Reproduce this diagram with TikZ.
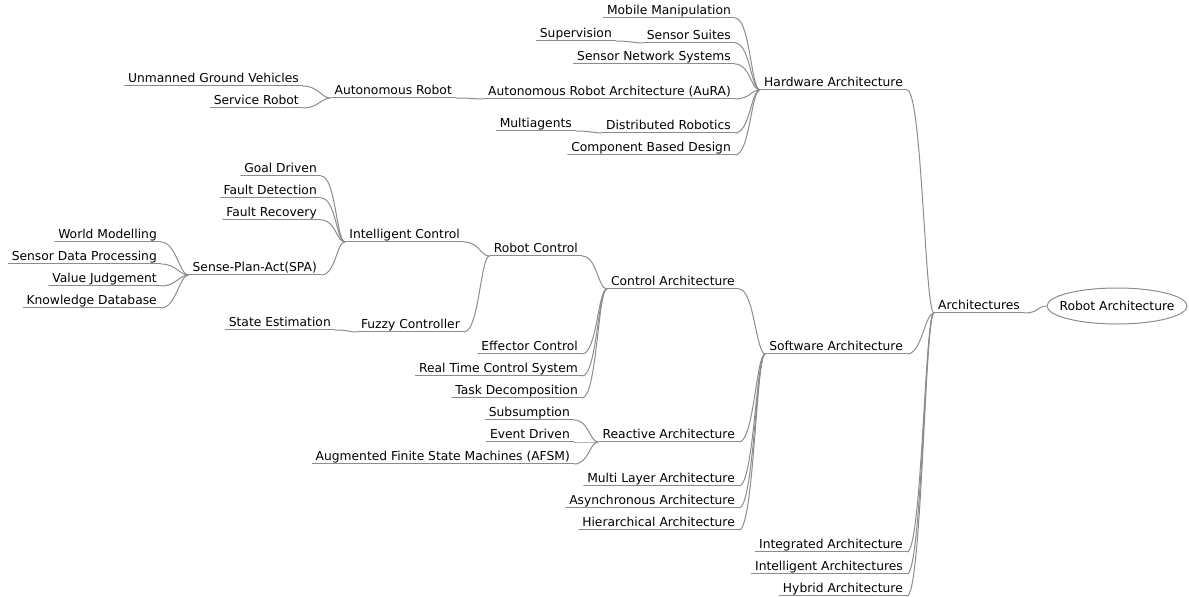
\documentclass[tikz,border=0pt]{standalone}
\usepackage{fontspec}
\setmainfont{DejaVu Sans}
\usepackage{xcolor}
\usepackage{tikz}
\usetikzlibrary{shapes.geometric}
\definecolor{linegray}{RGB}{140,140,140}

\begin{document}
\begin{tikzpicture}[
  x=1pt, y=-1pt,
  font=\fontsize{12.3}{14}\selectfont,
  topic/.style={anchor=south east, inner xsep=4pt, inner ysep=1pt, text height=9pt, text depth=2.5pt,
    path picture={\draw[linegray, line width=2pt] (path picture bounding box.south west) -- (path picture bounding box.south east);}},
  rootnode/.style={draw=linegray, line width=1pt, ellipse, minimum width=140pt, minimum height=36pt, inner xsep=-12pt, inner ysep=0pt},
  link/.style={draw=linegray, line width=1pt, out=0, in=180, out distance=15pt, in distance=9pt}
]
\useasboundingbox (0,0) rectangle (1189,597);

\node[rootnode] (root) at (1117,306) {Robot Architecture};
\node[topic] (arch) at (1024,313) {Architectures};

\node[topic] (hw) at (907,90) {Hardware Architecture};
\node[topic] (mm) at (735,18) {Mobile Manipulation};
\node[topic] (ss) at (735,43) {Sensor Suites};
\node[topic] (sup) at (616,41) {Supervision};
\node[topic] (sns) at (735,64) {Sensor Network Systems};
\node[topic] (aura) at (735,99) {Autonomous Robot Architecture (AuRA)};
\node[topic] (ar) at (456,98) {Autonomous Robot};
\node[topic] (ugv) at (303,86) {Unmanned Ground Vehicles};
\node[topic] (sr) at (303,108) {Service Robot};
\node[topic] (dr) at (735,133) {Distributed Robotics};
\node[topic] (ma) at (576,131) {Multiagents};
\node[topic] (cbd) at (735,155) {Component Based Design};

\node[topic] (sw) at (907,354) {Software Architecture};
\node[topic] (ca) at (739,289) {Control Architecture};
\node[topic] (rc) at (582,256) {Robot Control};
\node[topic] (ic) at (464,242) {Intelligent Control};
\node[topic] (gd) at (321,176) {Goal Driven};
\node[topic] (fd) at (321,198) {Fault Detection};
\node[topic] (fr) at (321,220) {Fault Recovery};
\node[topic] (spa) at (321,275) {Sense-Plan-Act(SPA)};
\node[topic] (wm) at (161,242) {World Modelling};
\node[topic] (sdp) at (161,264) {Sensor Data Processing};
\node[topic] (vj) at (161,286) {Value Judgement};
\node[topic] (kd) at (161,308) {Knowledge Database};
\node[topic] (fc) at (464,332) {Fuzzy Controller};
\node[topic] (se) at (335,330) {State Estimation};
\node[topic] (ec) at (582,354) {Effector Control};
\node[topic] (rt) at (582,376) {Real Time Control System};
\node[topic] (td) at (582,398) {Task Decomposition};
\node[topic] (ra) at (739,442) {Reactive Architecture};
\node[topic] (sub) at (574,420) {Subsumption};
\node[topic] (ed) at (574,442) {Event Driven};
\node[topic] (afsm) at (574,464) {Augmented Finite State Machines (AFSM)};
\node[topic] (ml) at (739,486) {Multi Layer Architecture};
\node[topic] (as) at (739,508) {Asynchronous Architecture};
\node[topic] (ha) at (739,530) {Hierarchical Architecture};

\node[topic] (ia) at (907,552) {Integrated Architecture};
\node[topic] (ita) at (907,574) {Intelligent Architectures};
\node[topic] (hy) at (907,596) {Hybrid Architecture};

\draw[link] (arch.south east) to (root.west);
\draw[link] (hw.south east) to (arch.south west);
\draw[link] (sw.south east) to (arch.south west);
\draw[link] (ia.south east) to (arch.south west);
\draw[link] (ita.south east) to (arch.south west);
\draw[link] (hy.south east) to (arch.south west);

\draw[link] (mm.south east) to (hw.south west);
\draw[link] (ss.south east) to (hw.south west);
\draw[link] (sns.south east) to (hw.south west);
\draw[link] (aura.south east) to (hw.south west);
\draw[link] (dr.south east) to (hw.south west);
\draw[link] (cbd.south east) to (hw.south west);
\draw[link] (sup.south east) to (ss.south west);
\draw[link] (ar.south east) to (aura.south west);
\draw[link] (ugv.south east) to (ar.south west);
\draw[link] (sr.south east) to (ar.south west);
\draw[link] (ma.south east) to (dr.south west);

\draw[link] (ca.south east) to (sw.south west);
\draw[link] (ra.south east) to (sw.south west);
\draw[link] (ml.south east) to (sw.south west);
\draw[link] (as.south east) to (sw.south west);
\draw[link] (ha.south east) to (sw.south west);
\draw[link] (rc.south east) to (ca.south west);
\draw[link] (ec.south east) to (ca.south west);
\draw[link] (rt.south east) to (ca.south west);
\draw[link] (td.south east) to (ca.south west);
\draw[link] (ic.south east) to (rc.south west);
\draw[link] (fc.south east) to (rc.south west);
\draw[link] (gd.south east) to (ic.south west);
\draw[link] (fd.south east) to (ic.south west);
\draw[link] (fr.south east) to (ic.south west);
\draw[link] (spa.south east) to (ic.south west);
\draw[link] (wm.south east) to (spa.south west);
\draw[link] (sdp.south east) to (spa.south west);
\draw[link] (vj.south east) to (spa.south west);
\draw[link] (kd.south east) to (spa.south west);
\draw[link] (se.south east) to (fc.south west);
\draw[link] (sub.south east) to (ra.south west);
\draw[link] (ed.south east) to (ra.south west);
\draw[link] (afsm.south east) to (ra.south west);
\end{tikzpicture}
\end{document}
